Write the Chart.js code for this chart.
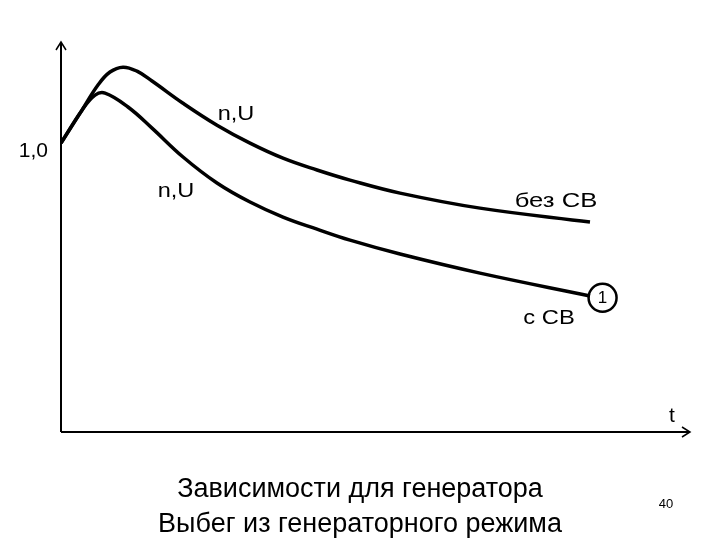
<!DOCTYPE html>
<html>
<head>
<meta charset="utf-8">
<script src="https://cdn.jsdelivr.net/npm/chart.js@4.4.1/dist/chart.umd.min.js"></script>
<style>
  html, body { margin: 0; padding: 0; background: #fff; }
  #wrap { width: 720px; height: 540px; }
</style>
</head>
<body>
<div id="wrap"><canvas id="c" width="720" height="540"></canvas></div>
<script>
// t (arbitrary units) and relative n,U values
var tWithout = [0, 3.34, 5.88, 7.79, 9.86, 12.08, 14.47, 19.40, 24.80, 30.05, 35.29, 40.70, 45.95, 53.90, 66.61, 84.10];
var nWithout = [1.0, 1.114, 1.201, 1.246, 1.263, 1.249, 1.215, 1.138, 1.062, 1.0, 0.948, 0.907, 0.872, 0.827, 0.775, 0.727];

var tWith = [0, 3.34, 5.41, 7.0, 10.65, 14.47, 19.40, 24.80, 30.05, 35.29, 40.70, 45.95, 53.90, 66.61, 84.10];
var nWith = [1.0, 1.114, 1.166, 1.173, 1.125, 1.052, 0.952, 0.862, 0.796, 0.744, 0.702, 0.664, 0.616, 0.550, 0.471];

var markerT = [86.1];
var markerN = [0.465];

function pts(xs, ys) { return xs.map(function(x, i) { return { x: x, y: ys[i] }; }); }

function wideText(ctx, text, cx, base, sx) {
  ctx.save();
  ctx.translate(cx, base);
  ctx.scale(sx, 1);
  ctx.fillText(text, 0, 0);
  ctx.restore();
}

var decor = {
  id: 'decor',
  afterDraw: function(chart) {
    var ctx = chart.ctx, xs = chart.scales.x, ys = chart.scales.y;
    var x0 = xs.getPixelForValue(0), y0 = ys.getPixelForValue(0);
    var yTop = ys.getPixelForValue(ys.max), xEnd = xs.getPixelForValue(xs.max);
    ctx.save();
    ctx.strokeStyle = '#000';
    ctx.lineWidth = 2;
    ctx.beginPath();
    ctx.moveTo(x0, y0); ctx.lineTo(x0, yTop + 1);
    ctx.moveTo(x0, y0); ctx.lineTo(xEnd - 1, y0);
    ctx.stroke();
    ctx.lineWidth = 1.5;
    ctx.beginPath();
    ctx.moveTo(x0 - 5, yTop + 8); ctx.lineTo(x0, yTop); ctx.lineTo(x0 + 5, yTop + 8);
    ctx.moveTo(xEnd - 8, y0 - 5); ctx.lineTo(xEnd, y0); ctx.lineTo(xEnd - 8, y0 + 5);
    ctx.stroke();

    ctx.fillStyle = '#000';
    ctx.textBaseline = 'alphabetic';
    ctx.font = '21px "Liberation Sans", Arial, sans-serif';
    ctx.textAlign = 'right';
    ctx.fillText('1,0', 48, 157);
    ctx.textAlign = 'center';
    wideText(ctx, 'n,U', 236, 120, 1.12);
    wideText(ctx, 'n,U', 176, 197, 1.12);
    wideText(ctx, 'без СВ', 556, 207, 1.22);
    wideText(ctx, 'с СВ', 549, 324, 1.13);
    ctx.fillText('t', 672, 422);
    ctx.font = '17px "Liberation Sans Narrow", "Arial Narrow", sans-serif';
    ctx.textBaseline = 'middle';
    var mx = xs.getPixelForValue(markerT[0]), my = ys.getPixelForValue(markerN[0]);
    ctx.fillText('1', mx, my + 1);

    ctx.textBaseline = 'alphabetic';
    ctx.font = '27px "Liberation Sans Narrow", "Arial Narrow", sans-serif';
    ctx.fillText('Зависимости для генератора', 360, 497);
    ctx.fillText('Выбег из генераторного режима', 360, 532);
    ctx.font = '13px "Liberation Sans Narrow", "Arial Narrow", sans-serif';
    ctx.fillText('40', 666, 508);
    ctx.restore();
  }
};

new Chart(document.getElementById('c').getContext('2d'), {
  type: 'scatter',
  data: {
    datasets: [{
      label: 'без СВ',
      data: pts(tWithout, nWithout),
      showLine: true,
      borderColor: '#000',
      borderWidth: 3.5,
      pointRadius: 0,
      tension: 0.4,
      fill: false
    }, {
      label: 'с СВ',
      data: pts(tWith, nWith),
      showLine: true,
      borderColor: '#000',
      borderWidth: 3.5,
      pointRadius: 0,
      tension: 0.4,
      fill: false
    }, {
      label: '1',
      data: pts(markerT, markerN),
      pointRadius: 14,
      pointBorderWidth: 2.5,
      pointBorderColor: '#000',
      pointBackgroundColor: '#fff'
    }]
  },
  options: {
    responsive: false,
    animation: false,
    layout: { padding: { left: 61, right: 30, top: 42, bottom: 108 } },
    scales: {
      x: { type: 'linear', min: 0, max: 100, display: false },
      y: { type: 'linear', min: 0, max: 1.35, display: false }
    },
    plugins: {
      legend: { display: false },
      tooltip: { enabled: false }
    }
  },
  plugins: [decor]
});
</script>
</body>
</html>
